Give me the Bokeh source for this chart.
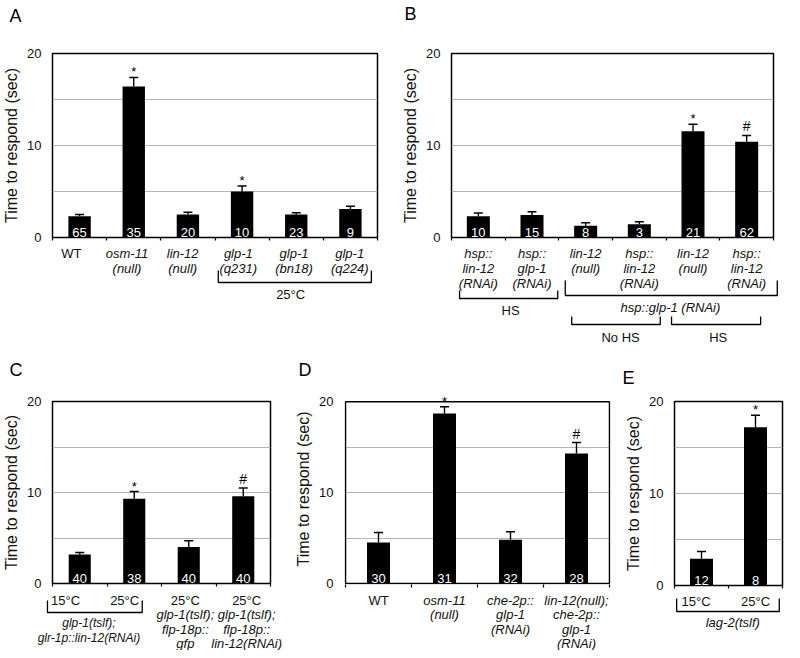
from bokeh.plotting import figure
from bokeh.models import (Range1d, FixedTicker, ColumnDataSource, LabelSet, Title,
                          CustomJSTickFormatter)
from bokeh.layouts import row, column
from bokeh.embed import file_html
from bokeh.resources import INLINE
from bokeh.core.properties import value

FONT = "Liberation Sans"

# ---------------- data ----------------
A_labels = [["WT"], ["osm-11", "(null)"], ["lin-12", "(null)"], ["glp-1", "(q231)"],
            ["glp-1", "(bn18)"], ["glp-1", "(q224)"]]
A_values = [2.3, 16.4, 2.5, 5.0, 2.5, 3.1]
A_sem = [0.2, 1.0, 0.25, 0.6, 0.2, 0.3]
A_n = [65, 35, 20, 10, 23, 9]
A_marks = ["", "*", "", "*", "", ""]
A_groups = [("25°C", 3, 5)]

B_labels = [["hsp::", "lin-12", "(RNAi)"], ["hsp::", "glp-1", "(RNAi)"], ["lin-12", "(null)"],
            ["hsp::", "lin-12", "(RNAi)"], ["lin-12", "(null)"], ["hsp::", "lin-12", "(RNAi)"]]
B_values = [2.3, 2.45, 1.27, 1.45, 11.55, 10.4]
B_sem = [0.35, 0.35, 0.33, 0.25, 0.75, 0.7]
B_n = [10, 15, 8, 3, 21, 62]
B_marks = ["", "", "", "", "*", "#"]
B_groups = [("HS", 0, 1), ("hsp::glp-1 (RNAi)", 2, 5), ("No HS", 2, 3), ("HS", 4, 5)]

C_labels = [["15°C"], ["25°C"], ["25°C", "glp-1(tslf);", "flp-18p::", "gfp"],
            ["25°C", "glp-1(tslf);", "flp-18p::", "lin-12(RNAi)"]]
C_values = [3.2, 9.3, 4.0, 9.6]
C_sem = [0.22, 0.8, 0.7, 0.9]
C_n = [40, 38, 40, 40]
C_marks = ["", "*", "", "#"]
C_groups = [("glp-1(tslf);|glr-1p::lin-12(RNAi)", 0, 1)]

D_labels = [["WT"], ["osm-11", "(null)"], ["che-2p::", "glp-1", "(RNAi)"],
            ["lin-12(null);", "che-2p::", "glp-1", "(RNAi)"]]
D_values = [4.5, 18.7, 4.8, 14.3]
D_sem = [1.1, 0.75, 0.9, 1.2]
D_n = [30, 31, 32, 28]
D_marks = ["", "*", "", "#"]
D_groups = []

E_labels = [["15°C"], ["25°C"]]
E_values = [2.9, 17.2]
E_sem = [0.8, 1.3]
E_n = [12, 8]
E_marks = ["", "*"]
E_groups = [("lag-2(tslf)", 0, 1)]

Y_TICKS = [0, 10, 20]
GRID_TICKS = [5, 10, 15]
Y_MAX = 20
BB = 8  # room under each box for the "0" tick label and category tick marks


def is_italic(s):
    return not (s in ("WT", "HS", "No HS") or "°C" in s)


def top_fig(letter, vals, sem, n, marks, W, L, R, T, FH, t_off, gap, headroom=0.0):
    """headroom > 0: y range extended above 20 so marks above the box stay visible;
    the box is then drawn as a quad at the data limits instead of the frame outline."""
    N = len(vals)
    if headroom > 0:
        bb = BB - 1
        ppc = (W - L - R - 2) / N
        e = 1.0 / ppc
        xr = Range1d(-0.5 - e, N - 0.5 + e)
        upp = (Y_MAX + headroom) / (FH - 1)
        yr = Range1d(-upp, Y_MAX + headroom)
    else:
        bb = BB
        ppc = (W - L - R) / N
        xr = Range1d(-0.5, N - 0.5)
        yr = Range1d(0, Y_MAX)
    H = T + FH + bb
    p = figure(width=W, height=H, x_range=xr, y_range=yr,
               output_backend="svg", toolbar_location=None,
               min_border_left=L, min_border_right=R, min_border_top=T, min_border_bottom=bb)
    p.background_fill_color = "white"
    p.border_fill_color = "white"
    # spacer (nearest the frame), then the panel letter above it
    p.add_layout(Title(text=" ", text_font_size="10px", standoff=gap), "above")
    p.add_layout(Title(text=letter, text_font=FONT, text_font_size="18px",
                       text_font_style="normal", text_color="black", align="left",
                       offset=t_off, standoff=0), "above")

    ax = p.yaxis[0]
    ax.ticker = FixedTicker(ticks=Y_TICKS)
    ax.axis_line_color = None
    ax.major_tick_line_color = None
    ax.minor_tick_line_color = None
    ax.major_label_text_font = FONT
    ax.major_label_text_font_size = "13px"
    ax.major_label_text_color = "#111111"
    ax.major_label_standoff = 5
    ax.axis_label = "Time to respond (sec)"
    ax.axis_label_text_font = FONT
    ax.axis_label_text_font_size = "16px"
    ax.axis_label_text_font_style = "normal"
    ax.axis_label_text_color = "#111111"
    ax.axis_label_standoff = 4

    # category boundary tick marks below the box (no labels)
    xa = p.xaxis[0]
    xa.ticker = FixedTicker(ticks=[i - 0.5 for i in range(N + 1)])
    xa.formatter = CustomJSTickFormatter(code="return ''")
    xa.major_label_text_font_size = "1px"
    xa.major_label_standoff = 0
    xa.axis_line_color = None
    xa.major_tick_in = 0
    xa.major_tick_out = 3
    xa.major_tick_line_width = 1.2
    xa.major_tick_line_color = "black"
    xa.minor_tick_line_color = None

    p.xgrid.visible = False
    p.ygrid.ticker = FixedTicker(ticks=GRID_TICKS)
    p.ygrid.grid_line_color = "#b4b4b4"
    p.ygrid.grid_line_width = 1.2

    if headroom > 0:
        p.outline_line_color = None
        p.quad(left=[-0.5], right=[N - 0.5], bottom=[0], top=[Y_MAX], fill_color=None,
               line_color="black", line_width=1.5)
    else:
        p.outline_line_color = "black"
        p.outline_line_width = 1.5

    bw = 23 / ppc
    idx = list(range(N))
    upper = [v + s for v, s in zip(vals, sem)]
    src = ColumnDataSource(dict(x=idx, top=vals, upper=upper, n=[str(k) for k in n]))
    p.vbar(x="x", top="top", width=bw, source=src, fill_color="black", line_color=None)
    p.segment(x0="x", y0="top", x1="x", y1="upper", source=src, line_color="black", line_width=1.4)
    p.scatter(x="x", y="upper", source=src, marker="dash", size=9, line_color="black", line_width=1.5)
    p.text(x="x", y=0, text="n", source=src, text_color="white", text_font=value(FONT),
           text_font_size="13px", text_align="center", text_baseline="bottom", y_offset=-1)

    for sym, off, fs in (("*", 1, "13px"), ("#", 4, "14px")):
        xs = [i for i, m in zip(idx, marks) if m == sym]
        if not xs:
            continue
        ys = [upper[i] for i in xs]
        ms = ColumnDataSource(dict(x=xs, y=ys, t=[sym] * len(xs)))
        p.add_layout(LabelSet(x="x", y="y", text="t", source=ms, text_align="center",
                              text_baseline="alphabetic", text_font=value(FONT),
                              text_font_size=fs, text_color="black", y_offset=off))
    p._frame_px = W - L - R
    return p


def bottom_fig(top, labels, W, L, R, BH, line_ys, label_dx, groups, geom):
    """Area under a panel, whole width is its frame; its x range continues the
    panel's x scale across the borders. y is in pixels below the bottom of the box."""
    xs0, xs1 = top.x_range.start, top.x_range.end
    ppc = top._frame_px / (xs1 - xs0)
    p = figure(width=W, height=BH, x_range=Range1d(xs0 - L / ppc, xs1 + R / ppc),
               y_range=Range1d(BB + BH, BB), output_backend="svg", toolbar_location=None,
               x_axis_location=None, y_axis_location=None, min_border=0,
               min_border_left=0, min_border_right=0, min_border_top=0, min_border_bottom=0)
    p.outline_line_color = None
    p.background_fill_color = "white"
    p.border_fill_color = "white"
    p.grid.grid_line_color = None

    for ital in (True, False):
        xs, ys, ts = [], [], []
        for i, lines in enumerate(labels):
            for j, t in enumerate(lines):
                if is_italic(t) == ital:
                    xs.append(i + label_dx[i])
                    ys.append(line_ys[j])
                    ts.append(t)
        if ts:
            p.text(x=xs, y=ys, text=ts, text_font=value(FONT), text_font_size="13px",
                   text_font_style="italic" if ital else "normal", text_color="#111111",
                   text_align="center", text_baseline="middle")

    for (name, g0, g1), (pl, pr, yt, yb, ldx, lys, fs) in zip(groups, geom):
        x0, x1 = g0 - pl, g1 + pr
        p.line(x=[x0, x0, x1, x1], y=[yt, yb, yb, yt], line_color="black", line_width=1.3)
        for t, ly in zip(name.split("|"), lys):
            p.text(x=[(g0 + g1) / 2 + ldx], y=[ly], text=[t], text_font=value(FONT),
                   text_font_size=fs, text_font_style="italic" if is_italic(t) else "normal",
                   text_color="#111111", text_align="center", text_baseline="middle")
    return row(p)


# ---------------- panels ----------------
pA_top = top_fig("A", A_values, A_sem, A_n, A_marks, 392, 43, 15, 53, 184, -43, 15)
pA_bot = bottom_fig(pA_top, A_labels, 392, 43, 15, 100, [16, 31], [0] * 6, A_groups,
                    [(0.36, 0.39, 33, 45, -0.06, [57], "13px")])

pB_top = top_fig("B", B_values, B_sem, B_n, B_marks, 392, 59, 11, 53, 184, -47, 17)
pB_bot = bottom_fig(pB_top, B_labels, 392, 59, 11, 100, [16, 31, 46], [0] * 6, B_groups,
                    [(0.35, 0.48, 53, 61, 0.1, [73], "13px"),
                     (0.38, 0.57, 43, 58, 0.08, [70], "13px"),
                     (0.26, 0.39, 79, 87, 0.15, [100], "13px"),
                     (0.40, 0.26, 79, 87, -0.03, [100], "13px")])

pC_top = top_fig("C", C_values, C_sem, C_n, C_marks, 292, 43, 22, 56, 182, -43, 9)
pC_bot = bottom_fig(pC_top, C_labels, 292, 43, 22, 59, [16.5, 31, 45.5, 59.5],
                    [-0.11, -0.07, 0, 0.08], C_groups,
                    [(0.43, 0.24, 17, 29, -0.2, [39, 54], "12px")])

pD_top = top_fig("D", D_values, D_sem, D_n, D_marks, 320, 52, 2, 48, 191, -46, 1, headroom=0.9)
pD_bot = bottom_fig(pD_top, D_labels, 320, 52, 2, 59, [16.5, 31, 45.5, 59.5], [0] * 4,
                    D_groups, [])

pE_top = top_fig("E", E_values, E_sem, E_n, E_marks, 172, 62, 2, 56, 184, -52, 1)
pE_bot = bottom_fig(pE_top, E_labels, 172, 62, 2, 57, [16.4], [-0.1, 0.0], E_groups,
                    [(0.46, 0.44, 13, 26, 0.08, [37], "13px")])

layout = column(
    row(column(pA_top, pA_bot), column(pB_top, pB_bot)),
    row(column(pC_top, pC_bot), column(pD_top, pD_bot), column(pE_top, pE_bot)),
)

open("out.html", "w").write(file_html(layout, INLINE))
